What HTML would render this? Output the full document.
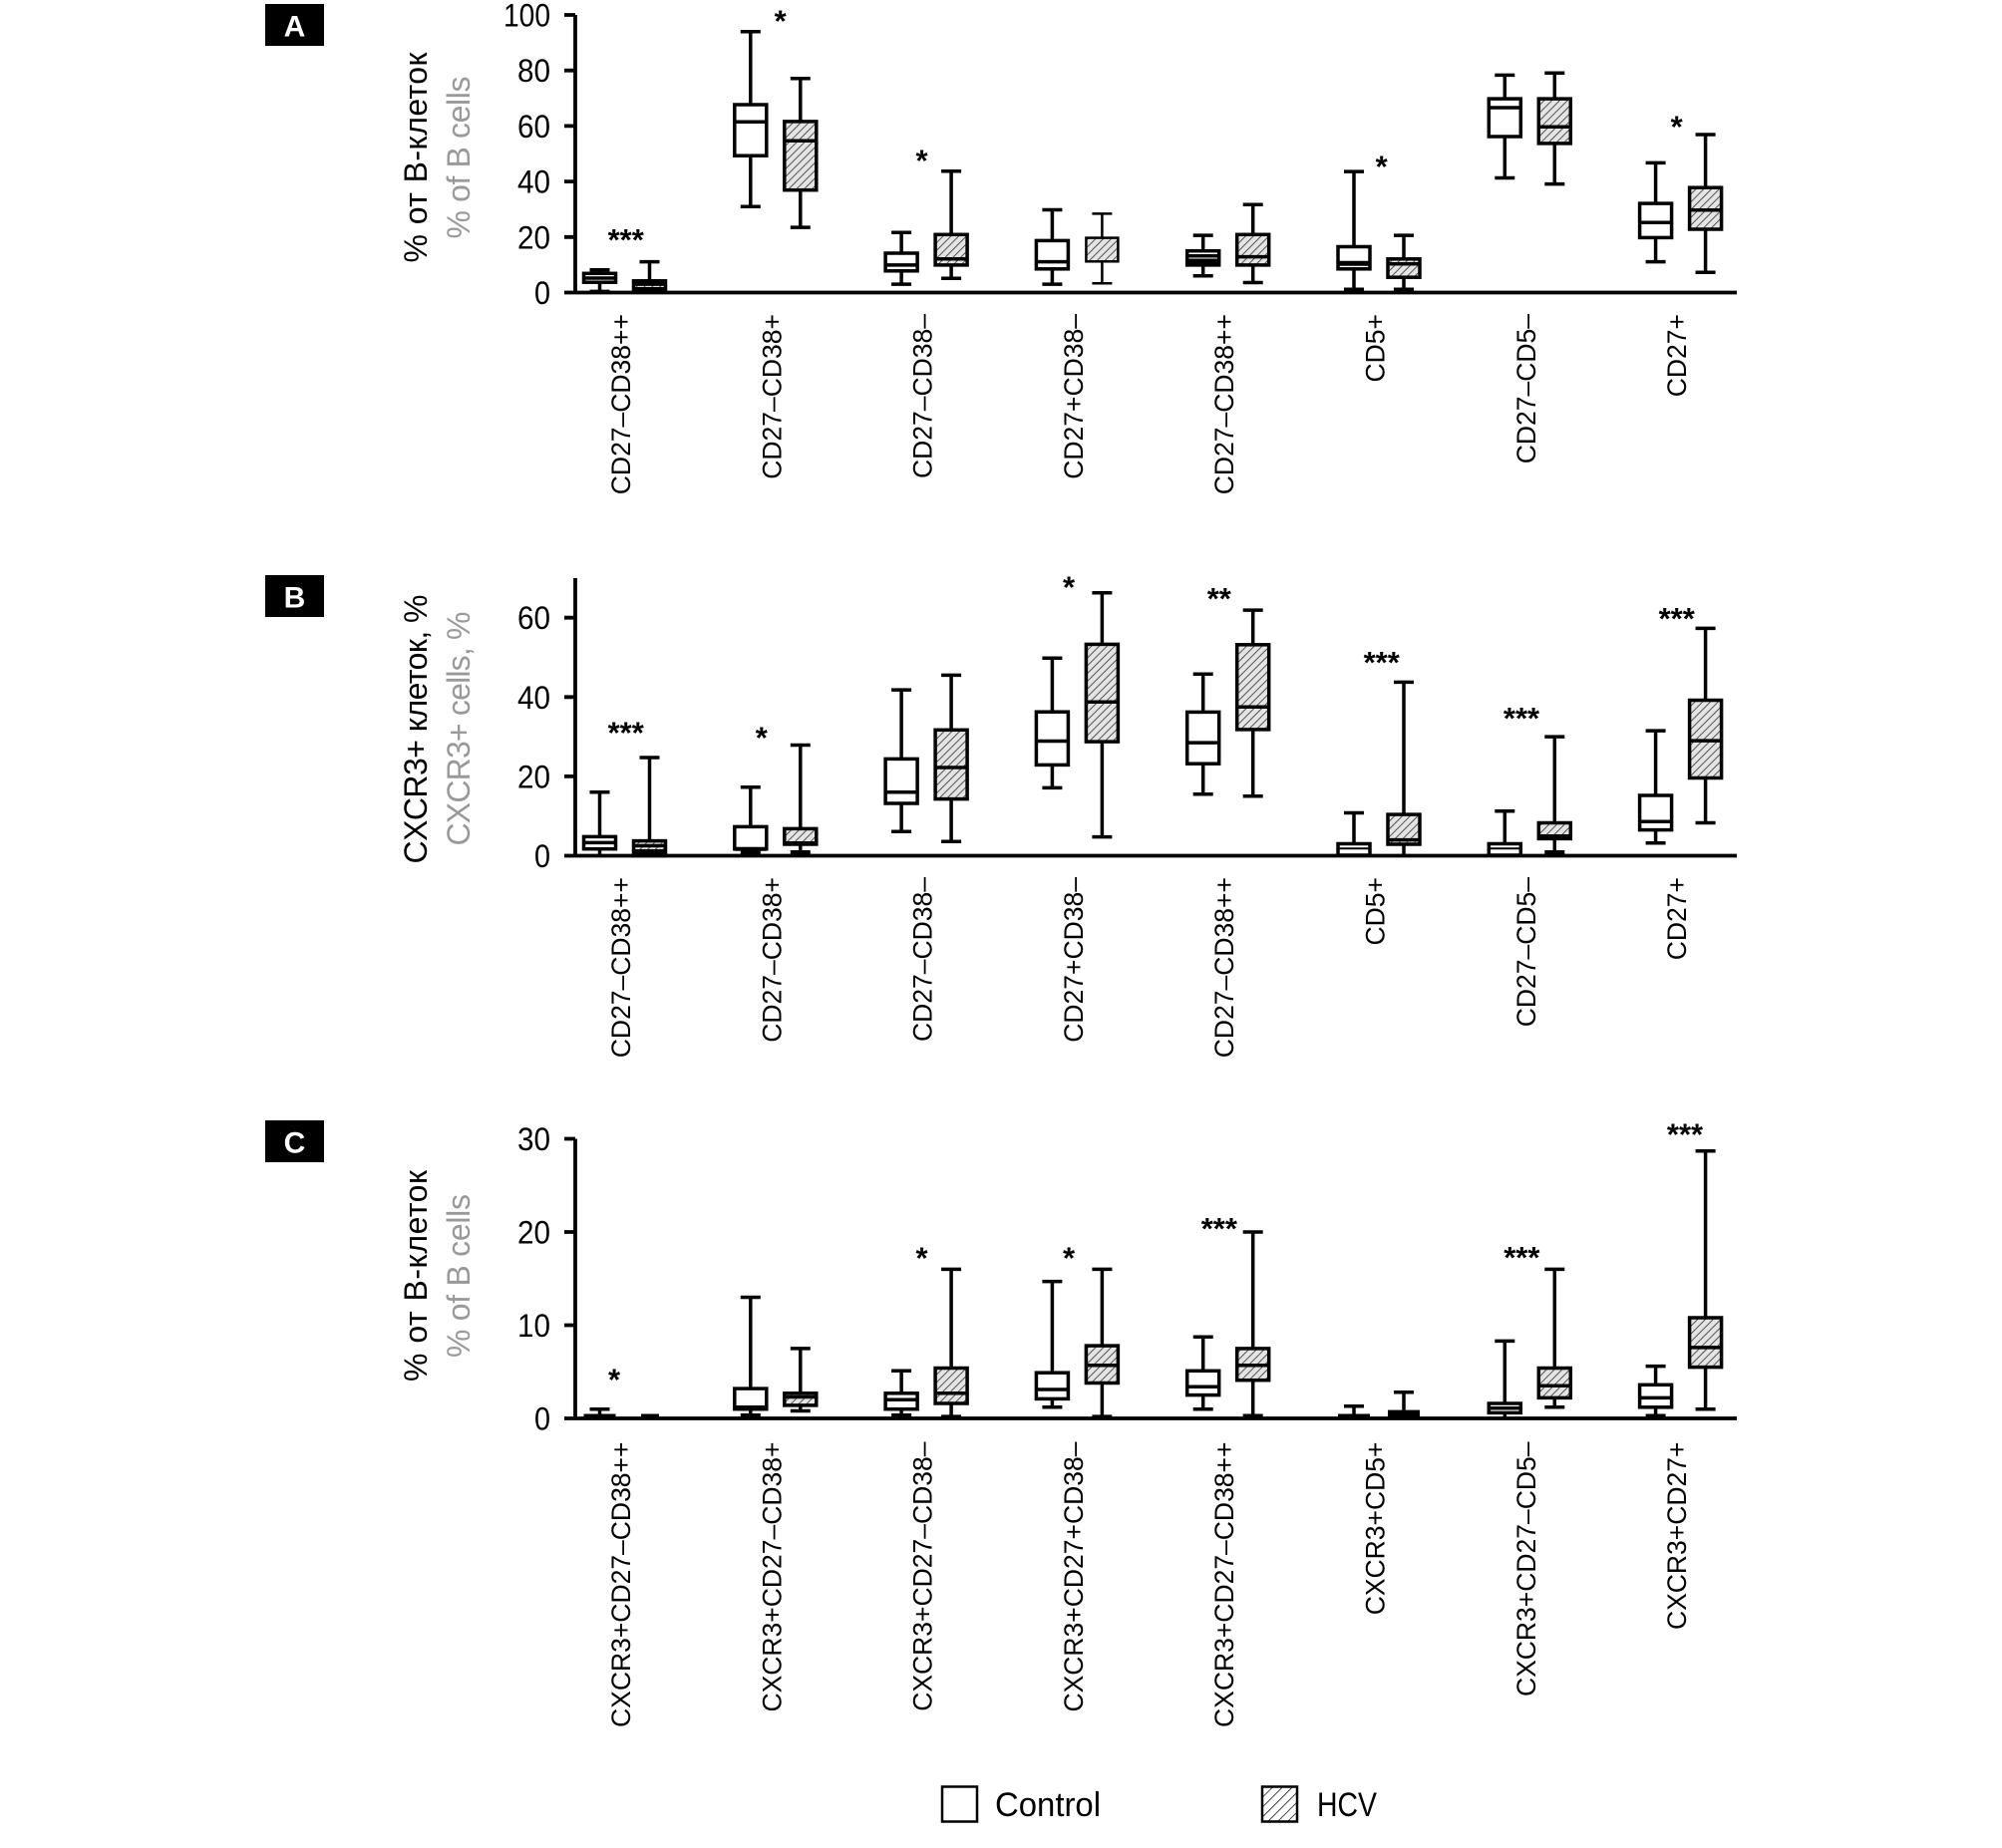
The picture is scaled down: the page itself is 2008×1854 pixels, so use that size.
<!DOCTYPE html>
<html>
<head>
<meta charset="utf-8">
<style>
html,body{margin:0;padding:0;background:#fff;}
svg{display:block;}
text{font-family:"Liberation Sans",Arial,sans-serif;}
.k{stroke:#000;stroke-width:3.5;fill:none;}
.w{fill:#fff;stroke:#000;stroke-width:3.5;}
.h{fill:url(#hp);stroke:#000;stroke-width:3.5;}
.m{stroke:#000;stroke-width:3.5;}
.ax{stroke:#000;stroke-width:3.8;fill:none;}
.tk{font-size:32px;text-anchor:end;}
.cl{font-size:26.5px;text-anchor:end;}
.st{font-size:31px;font-weight:bold;text-anchor:middle;}
.yt{font-size:32px;text-anchor:middle;}
.yg{font-size:32px;text-anchor:middle;fill:#999;}
.pl{font-size:30px;font-weight:bold;fill:#fff;text-anchor:middle;}
</style>
</head>
<body>
<svg width="2008" height="1854" viewBox="0 0 2008 1854" xmlns="http://www.w3.org/2000/svg">
<defs>
<pattern id="hp" width="5.5" height="5.5" patternUnits="userSpaceOnUse" patternTransform="rotate(45)">
<rect width="5.5" height="5.5" fill="#e4e4e4"/>
<line x1="0" y1="0" x2="0" y2="5.5" stroke="#3a3a3a" stroke-width="1.7"/>
</pattern>
<pattern id="lp" width="7" height="7" patternUnits="userSpaceOnUse" patternTransform="rotate(45)">
<rect width="7" height="7" fill="#fff"/>
<line x1="0" y1="0" x2="0" y2="7" stroke="#000" stroke-width="1.4"/>
</pattern>
</defs>
<rect width="2008" height="1854" fill="#fff"/>

<!-- ================= PANEL A ================= -->
<rect x="266" y="4" width="59" height="42" fill="#000"/>
<text class="pl" x="295.5" y="36.5">A</text>
<text class="yt" transform="translate(428,158) rotate(-90)" textLength="211">% от В-клеток</text>
<text class="yg" transform="translate(471,158) rotate(-90)" textLength="163">% of B cells</text>

<path class="ax" d="M577 15V295M566 293.5H1742"/>
<path class="ax" d="M566 15H577M566 70.7H577M566 126.4H577M566 182.1H577M566 237.8H577"/>
<text class="tk" x="552" y="26.5" textLength="47" lengthAdjust="spacingAndGlyphs">100</text>
<text class="tk" x="552" y="82.2" textLength="33" lengthAdjust="spacingAndGlyphs">80</text>
<text class="tk" x="552" y="137.9" textLength="33" lengthAdjust="spacingAndGlyphs">60</text>
<text class="tk" x="552" y="193.6" textLength="33" lengthAdjust="spacingAndGlyphs">40</text>
<text class="tk" x="552" y="249.3" textLength="33" lengthAdjust="spacingAndGlyphs">20</text>
<text class="tk" x="552" y="305" textLength="16" lengthAdjust="spacingAndGlyphs">0</text>

<!-- A G1 -->
<path class="k" d="M601.5 270.7V274.3M601.5 283.2V292.4M591.5 270.7H611.5M591.5 292.4H611.5"/>
<rect class="w" x="585.5" y="274.3" width="32" height="8.9"/>
<path class="m" d="M585.5 279H617.5"/>
<path class="k" d="M651.5 262.6V281.8M641.5 262.6H661.5"/>
<rect class="h" x="635.5" y="281.8" width="32" height="10"/>
<rect x="635.5" y="288" width="32" height="5.5" fill="#000"/>
<path class="m" d="M635.5 285.1H667.5"/>
<!-- A G2 -->
<path class="k" d="M752.8 31.7V105M752.8 156.2V207.2M742.8 31.7H762.8M742.8 207.2H762.8"/>
<rect class="w" x="736.8" y="105" width="32" height="51.2"/>
<path class="m" d="M736.8 122.2H768.8"/>
<path class="k" d="M802.8 78.8V121.9M802.8 190.7V228.1M792.8 78.8H812.8M792.8 228.1H812.8"/>
<rect class="h" x="786.8" y="121.9" width="32" height="68.8"/>
<path class="m" d="M786.8 141.2H818.8"/>
<!-- A G3 -->
<path class="k" d="M904.1 233.3V254M904.1 271.8V285.1M894.1 233.3H914.1M894.1 285.1H914.1"/>
<rect class="w" x="888.1" y="254" width="32" height="17.8"/>
<path class="m" d="M888.1 265.9H920.1"/>
<path class="k" d="M954.1 171.8V235.3M954.1 265.9V279.3M944.1 171.8H964.1M944.1 279.3H964.1"/>
<rect class="h" x="938.1" y="235.3" width="32" height="30.6"/>
<path class="m" d="M938.1 259.8H970.1"/>
<!-- A G4 -->
<path class="k" d="M1055.4 210.5V241.4M1055.4 269.8V285.1M1045.4 210.5H1065.4M1045.4 285.1H1065.4"/>
<rect class="w" x="1039.4" y="241.4" width="32" height="28.4"/>
<path class="m" d="M1039.4 262.6H1071.4"/>
<path class="k" style="stroke-width:2.5" d="M1105.4 214.4V238.6M1105.4 262.3V284.3M1095.4 214.4H1115.4M1095.4 284.3H1115.4"/>
<rect class="h" style="stroke-width:2.5" x="1089.4" y="238.6" width="32" height="23.7"/>
<!-- A G5 -->
<path class="k" d="M1206.7 236.1V251.7M1206.7 265.9V276.8M1196.7 236.1H1216.7M1196.7 276.8H1216.7"/>
<rect class="w" x="1190.7" y="251.7" width="32" height="14.2"/>
<rect x="1190.7" y="259.5" width="32" height="6.4" fill="#000"/>
<path class="m" d="M1190.7 256.7H1222.7"/>
<path class="k" d="M1256.7 205.2V235.3M1256.7 265.9V283.5M1246.7 205.2H1266.7M1246.7 283.5H1266.7"/>
<rect class="h" x="1240.7" y="235.3" width="32" height="30.6"/>
<path class="m" d="M1240.7 257.6H1272.7"/>
<!-- A G6 -->
<path class="k" d="M1358 172.1V247.5M1358 269.8V293.5M1348 172.1H1368"/>
<rect class="w" x="1342" y="247.5" width="32" height="22.3"/>
<path class="m" style="stroke-width:5" d="M1342 264.3H1374"/>
<rect x="1348" y="288.5" width="20" height="5" fill="#000"/>
<path class="k" d="M1408 236.1V259.8M1408 278.2V293.5M1398 236.1H1418"/>
<rect class="h" x="1392" y="259.8" width="32" height="18.4"/>
<path class="m" d="M1392 264.8H1424"/>
<rect x="1398" y="288.5" width="20" height="5" fill="#000"/>
<!-- A G7 -->
<path class="k" d="M1509.3 75.4V99.1M1509.3 137V178.5M1499.3 75.4H1519.3M1499.3 178.5H1519.3"/>
<rect class="w" x="1493.3" y="99.1" width="32" height="37.9"/>
<path class="m" d="M1493.3 108H1525.3"/>
<path class="k" d="M1559.3 73.2V99.1M1559.3 143.9V184.6M1549.3 73.2H1569.3M1549.3 184.6H1569.3"/>
<rect class="h" x="1543.3" y="99.1" width="32" height="44.8"/>
<path class="m" d="M1543.3 127.2H1575.3"/>
<!-- A G8 -->
<path class="k" d="M1660.6 163.4V204.1M1660.6 238.4V262.6M1650.6 163.4H1670.6M1650.6 262.6H1670.6"/>
<rect class="w" x="1644.6" y="204.1" width="32" height="34.3"/>
<path class="m" d="M1644.6 223.3H1676.6"/>
<path class="k" d="M1710.6 135V188.2M1710.6 230V273.2M1700.6 135H1720.6M1700.6 273.2H1720.6"/>
<rect class="h" x="1694.6" y="188.2" width="32" height="41.8"/>
<path class="m" d="M1694.6 210.8H1726.6"/>

<!-- A stars -->
<text class="st" x="627.7" y="250.8">***</text>
<text class="st" x="782.7" y="31.3">*</text>
<text class="st" x="924.5" y="171.7">*</text>
<text class="st" x="1385.7" y="177.5">*</text>
<text class="st" x="1681.7" y="137.7">*</text>

<!-- A category labels -->
<text class="cl" transform="translate(632,315) rotate(-90)">CD27–CD38++</text>
<text class="cl" transform="translate(783.3,315) rotate(-90)">CD27–CD38+</text>
<text class="cl" transform="translate(934.6,315) rotate(-90)">CD27–CD38–</text>
<text class="cl" transform="translate(1085.9,315) rotate(-90)">CD27+CD38–</text>
<text class="cl" transform="translate(1237.2,315) rotate(-90)">CD27–CD38++</text>
<text class="cl" transform="translate(1388.5,315) rotate(-90)">CD5+</text>
<text class="cl" transform="translate(1539.8,315) rotate(-90)">CD27–CD5–</text>
<text class="cl" transform="translate(1691.1,315) rotate(-90)">CD27+</text>

<!-- ================= PANEL B ================= -->
<rect x="266" y="577" width="59" height="42" fill="#000"/>
<text class="pl" x="295.5" y="609.5">B</text>
<text class="yt" transform="translate(428,731.5) rotate(-90)" textLength="270">CXCR3+ клеток, %</text>
<text class="yg" transform="translate(471,731) rotate(-90)" textLength="235">CXCR3+ cells, %</text>

<path class="ax" d="M577 580V860M566 858.5H1742"/>
<path class="ax" d="M566 619.7H577M566 699.3H577M566 778.9H577"/>
<text class="tk" x="552" y="631.2" textLength="33" lengthAdjust="spacingAndGlyphs">60</text>
<text class="tk" x="552" y="710.8" textLength="33" lengthAdjust="spacingAndGlyphs">40</text>
<text class="tk" x="552" y="790.4" textLength="33" lengthAdjust="spacingAndGlyphs">20</text>
<text class="tk" x="552" y="870" textLength="16" lengthAdjust="spacingAndGlyphs">0</text>

<!-- B G1 -->
<path class="k" d="M601.5 794.8V839.4M601.5 851.7V858.5M591.5 794.8H611.5"/>
<rect class="w" x="585.5" y="839.4" width="32" height="12.3"/>
<path class="m" d="M585.5 845.4H617.5"/>
<path class="k" d="M651.5 760V843.6M641.5 760H661.5"/>
<rect class="h" x="635.5" y="843.6" width="32" height="14.9"/>
<rect x="635.5" y="852" width="32" height="6.5" fill="#000"/>
<path class="m" d="M635.5 848.5H667.5"/>
<!-- B G2 -->
<path class="k" d="M752.8 789.8V829.4M752.8 851.7V858.5M742.8 789.8H762.8"/>
<rect class="w" x="736.8" y="829.4" width="32" height="22.3"/>
<path class="m" style="stroke-width:4" d="M736.8 851.7H768.8"/>
<rect x="742.8" y="853" width="20" height="5.5" fill="#000"/>
<path class="k" d="M802.8 747.5V831.4M802.8 847V858.5M792.8 747.5H812.8"/>
<rect class="h" x="786.8" y="831.4" width="32" height="15.6"/>
<path class="m" d="M786.8 845.8H818.8"/>
<rect x="792.8" y="853" width="20" height="5.5" fill="#000"/>
<!-- B G3 -->
<path class="k" d="M904.1 692.1V761.4M904.1 806V834.2M894.1 692.1H914.1M894.1 834.2H914.1"/>
<rect class="w" x="888.1" y="761.4" width="32" height="44.6"/>
<path class="m" d="M888.1 794.8H920.1"/>
<path class="k" d="M954.1 677.4V732.3M954.1 801.6V844.2M944.1 677.4H964.1M944.1 844.2H964.1"/>
<rect class="h" x="938.1" y="732.3" width="32" height="69.3"/>
<path class="m" d="M938.1 770H970.1"/>
<!-- B G4 -->
<path class="k" d="M1055.4 660.3V714.2M1055.4 767.4V790.4M1045.4 660.3H1065.4M1045.4 790.4H1065.4"/>
<rect class="w" x="1039.4" y="714.2" width="32" height="53.2"/>
<path class="m" d="M1039.4 743.5H1071.4"/>
<path class="k" d="M1105.4 594.8V646.4M1105.4 744.1V839.6M1095.4 594.8H1115.4M1095.4 839.6H1115.4"/>
<rect class="h" x="1089.4" y="646.4" width="32" height="97.7"/>
<path class="m" d="M1089.4 704.3H1121.4"/>
<!-- B G5 -->
<path class="k" d="M1206.7 676.2V714.4M1206.7 766.2V796.8M1196.7 676.2H1216.7M1196.7 796.8H1216.7"/>
<rect class="w" x="1190.7" y="714.4" width="32" height="51.8"/>
<path class="m" d="M1190.7 745.1H1222.7"/>
<path class="k" d="M1256.7 612.1V646.8M1256.7 731.9V798.8M1246.7 612.1H1266.7M1246.7 798.8H1266.7"/>
<rect class="h" x="1240.7" y="646.8" width="32" height="85.1"/>
<path class="m" d="M1240.7 709.3H1272.7"/>
<!-- B G6 -->
<path class="k" d="M1358 815.5V846.5M1348 815.5H1368"/>
<rect class="w" x="1342" y="846.5" width="32" height="11.5"/>
<path class="m" style="stroke-width:2" d="M1342 851.3H1374"/>
<path class="k" d="M1408 684.4V817.1M1408 847V858.5M1398 684.4H1418"/>
<rect class="h" x="1392" y="817.1" width="32" height="29.9"/>
<path class="m" d="M1392 842.6H1424"/>
<!-- B G7 -->
<path class="k" d="M1509.3 813.7V846.5M1499.3 813.7H1519.3"/>
<rect class="w" x="1493.3" y="846.5" width="32" height="11.5"/>
<path class="m" style="stroke-width:2" d="M1493.3 851.3H1525.3"/>
<path class="k" d="M1559.3 739.1V825.5M1559.3 841.4V858.5M1549.3 739.1H1569.3"/>
<rect class="h" x="1543.3" y="825.5" width="32" height="15.9"/>
<path class="m" style="stroke-width:4" d="M1543.3 839H1575.3"/>
<rect x="1549.3" y="853" width="20" height="5.5" fill="#000"/>
<!-- B G8 -->
<path class="k" d="M1660.6 733.1V798M1660.6 832.6V845.8M1650.6 733.1H1670.6M1650.6 845.8H1670.6"/>
<rect class="w" x="1644.6" y="798" width="32" height="34.6"/>
<path class="m" d="M1644.6 824.3H1676.6"/>
<path class="k" d="M1710.6 630.4V702.5M1710.6 780.5V825.5M1700.6 630.4H1720.6M1700.6 825.5H1720.6"/>
<rect class="h" x="1694.6" y="702.5" width="32" height="78"/>
<path class="m" d="M1694.6 743.1H1726.6"/>

<!-- B stars -->
<text class="st" x="627.7" y="745.6">***</text>
<text class="st" x="763.8" y="750.3">*</text>
<text class="st" x="1072" y="599.5">*</text>
<text class="st" x="1222.8" y="611">**</text>
<text class="st" x="1385.7" y="675.1">***</text>
<text class="st" x="1526" y="731.2">***</text>
<text class="st" x="1681.7" y="631">***</text>

<!-- B category labels -->
<text class="cl" transform="translate(632,880) rotate(-90)">CD27–CD38++</text>
<text class="cl" transform="translate(783.3,880) rotate(-90)">CD27–CD38+</text>
<text class="cl" transform="translate(934.6,880) rotate(-90)">CD27–CD38–</text>
<text class="cl" transform="translate(1085.9,880) rotate(-90)">CD27+CD38–</text>
<text class="cl" transform="translate(1237.2,880) rotate(-90)">CD27–CD38++</text>
<text class="cl" transform="translate(1388.5,880) rotate(-90)">CD5+</text>
<text class="cl" transform="translate(1539.8,880) rotate(-90)">CD27–CD5–</text>
<text class="cl" transform="translate(1691.1,880) rotate(-90)">CD27+</text>

<!-- ================= PANEL C ================= -->
<rect x="266" y="1124" width="59" height="42" fill="#000"/>
<text class="pl" x="295.5" y="1156.5">C</text>
<text class="yt" transform="translate(428,1280) rotate(-90)" textLength="212">% от В-клеток</text>
<text class="yg" transform="translate(471,1280) rotate(-90)" textLength="164">% of B cells</text>

<path class="ax" d="M577 1142.5V1424.5M566 1423H1742"/>
<path class="ax" d="M566 1142.5H577M566 1236H577M566 1329.5H577"/>
<text class="tk" x="552" y="1154" textLength="33" lengthAdjust="spacingAndGlyphs">30</text>
<text class="tk" x="552" y="1247.5" textLength="33" lengthAdjust="spacingAndGlyphs">20</text>
<text class="tk" x="552" y="1341" textLength="33" lengthAdjust="spacingAndGlyphs">10</text>
<text class="tk" x="552" y="1434.5" textLength="16" lengthAdjust="spacingAndGlyphs">0</text>

<!-- C G1 -->
<path class="k" d="M601.5 1413.7V1420M591.5 1413.7H611.5"/>
<path class="k" style="stroke-width:4" d="M585.5 1420.5H617.5"/>
<path class="k" style="stroke-width:4" d="M643 1420.5H661"/>
<!-- C G2 -->
<path class="k" d="M752.8 1301.5V1393.1M752.8 1413.7V1421.1M742.8 1301.5H762.8"/>
<rect class="w" x="736.8" y="1393.1" width="32" height="20.6"/>
<path class="m" d="M736.8 1411.8H768.8"/>
<rect x="742.8" y="1418" width="20" height="5" fill="#000"/>
<path class="k" d="M802.8 1352.9V1397.8M802.8 1409.9V1415.5M792.8 1352.9H812.8M792.8 1415.5H812.8"/>
<rect class="h" x="786.8" y="1397.8" width="32" height="12.1"/>
<path class="m" d="M786.8 1401.5H818.8"/>
<!-- C G3 -->
<path class="k" d="M904.1 1375.3V1397.8M904.1 1413.7V1420.2M894.1 1375.3H914.1"/>
<rect class="w" x="888.1" y="1397.8" width="32" height="15.9"/>
<path class="m" d="M888.1 1404.3H920.1"/>
<rect x="894.1" y="1418" width="20" height="5" fill="#000"/>
<path class="k" d="M954.1 1273.4V1372.5M954.1 1408V1421.1M944.1 1273.4H964.1M944.1 1421.1H964.1"/>
<rect class="h" x="938.1" y="1372.5" width="32" height="35.5"/>
<path class="m" d="M938.1 1397.8H970.1"/>
<!-- C G4 -->
<path class="k" d="M1055.4 1285.6V1377.2M1055.4 1403.4V1411.8M1045.4 1285.6H1065.4M1045.4 1411.8H1065.4"/>
<rect class="w" x="1039.4" y="1377.2" width="32" height="26.2"/>
<path class="m" d="M1039.4 1394H1071.4"/>
<path class="k" d="M1105.4 1273.4V1350.1M1105.4 1387.5V1421.1M1095.4 1273.4H1115.4M1095.4 1421.1H1115.4"/>
<rect class="h" x="1089.4" y="1350.1" width="32" height="37.4"/>
<path class="m" d="M1089.4 1369.7H1121.4"/>
<!-- C G5 -->
<path class="k" d="M1206.7 1341.2V1375.3M1206.7 1399.6V1413.7M1196.7 1341.2H1216.7M1196.7 1413.7H1216.7"/>
<rect class="w" x="1190.7" y="1375.3" width="32" height="24.3"/>
<path class="m" d="M1190.7 1391.2H1222.7"/>
<path class="k" d="M1256.7 1236V1352.9M1256.7 1384.7V1420.2M1246.7 1236H1266.7M1246.7 1420.2H1266.7"/>
<rect class="h" x="1240.7" y="1352.9" width="32" height="31.8"/>
<path class="m" d="M1240.7 1369.7H1272.7"/>
<!-- C G6 -->
<path class="k" d="M1358 1410.8V1420M1348 1410.8H1368"/>
<path class="k" style="stroke-width:4" d="M1342 1420.5H1374"/>
<path class="k" d="M1408 1396.8V1414.6M1398 1396.8H1418"/>
<rect x="1392" y="1414.6" width="32" height="8.4" fill="#000"/>
<!-- C G7 -->
<path class="k" d="M1509.3 1345.4V1408M1509.3 1417.4V1423M1499.3 1345.4H1519.3"/>
<rect class="w" x="1493.3" y="1408" width="32" height="9.4"/>
<path class="m" d="M1493.3 1412.7H1525.3"/>
<path class="k" d="M1559.3 1273.4V1372.5M1559.3 1402.4V1411.8M1549.3 1273.4H1569.3M1549.3 1411.8H1569.3"/>
<rect class="h" x="1543.3" y="1372.5" width="32" height="29.9"/>
<path class="m" d="M1543.3 1390.3H1575.3"/>
<!-- C G8 -->
<path class="k" d="M1660.6 1370.6V1389.3M1660.6 1411.8V1420.2M1650.6 1370.6H1670.6M1650.6 1420.2H1670.6"/>
<rect class="w" x="1644.6" y="1389.3" width="32" height="22.5"/>
<path class="m" d="M1644.6 1402.4H1676.6"/>
<path class="k" d="M1710.6 1154.7V1322M1710.6 1371.6V1413.7M1700.6 1154.7H1720.6M1700.6 1413.7H1720.6"/>
<rect class="h" x="1694.6" y="1322" width="32" height="49.6"/>
<path class="m" d="M1694.6 1351.9H1726.6"/>

<!-- C stars -->
<text class="st" x="616" y="1394.7">*</text>
<text class="st" x="924.5" y="1272.7">*</text>
<text class="st" x="1072" y="1272.7">*</text>
<text class="st" x="1222.8" y="1242.8">***</text>
<text class="st" x="1526.3" y="1271.8">***</text>
<text class="st" x="1690" y="1148.4">***</text>

<!-- C category labels -->
<text class="cl" transform="translate(632,1446.5) rotate(-90)">CXCR3+CD27–CD38++</text>
<text class="cl" transform="translate(783.3,1446.5) rotate(-90)">CXCR3+CD27–CD38+</text>
<text class="cl" transform="translate(934.6,1446.5) rotate(-90)">CXCR3+CD27–CD38–</text>
<text class="cl" transform="translate(1085.9,1446.5) rotate(-90)">CXCR3+CD27+CD38–</text>
<text class="cl" transform="translate(1237.2,1446.5) rotate(-90)">CXCR3+CD27–CD38++</text>
<text class="cl" transform="translate(1388.5,1446.5) rotate(-90)">CXCR3+CD5+</text>
<text class="cl" transform="translate(1539.8,1446.5) rotate(-90)">CXCR3+CD27–CD5–</text>
<text class="cl" transform="translate(1691.1,1446.5) rotate(-90)">CXCR3+CD27+</text>

<!-- ================= LEGEND ================= -->
<rect x="945" y="1792.5" width="35" height="35" fill="#fff" stroke="#000" stroke-width="2.5"/>
<text x="998" y="1822" font-size="34" textLength="106" lengthAdjust="spacingAndGlyphs">Control</text>
<rect x="1266" y="1792.5" width="35" height="35" fill="url(#lp)" stroke="#000" stroke-width="2.5"/>
<text x="1321" y="1822" font-size="34" textLength="60" lengthAdjust="spacingAndGlyphs">HCV</text>
</svg>
</body>
</html>
